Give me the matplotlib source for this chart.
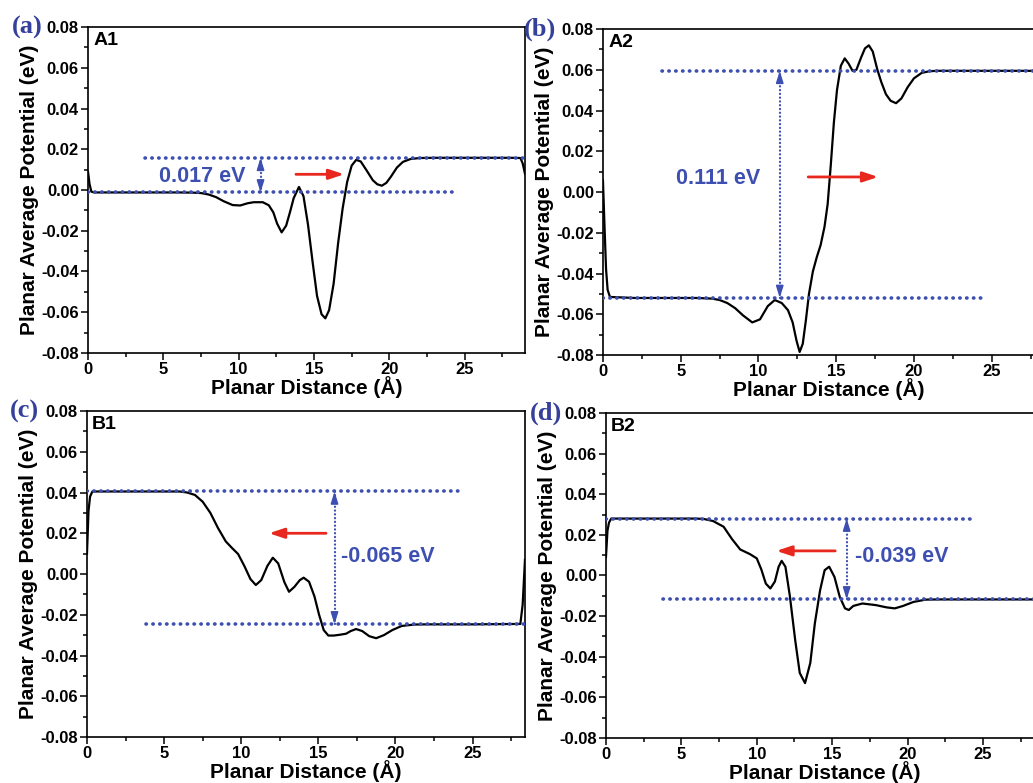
import matplotlib
matplotlib.use("Agg")
import matplotlib.pyplot as plt
from matplotlib.ticker import MultipleLocator

plt.rcParams['font.family'] = ['Liberation Sans', 'DejaVu Sans']
plt.rcParams['font.weight'] = 'bold'

# A1 curve
a1_x = [0, 0.1, 0.22, 0.4, 2, 4, 6, 7, 7.5, 8.0, 8.5, 9.0, 9.6, 10.1, 10.6, 11.0, 11.6,
        12.0, 12.3, 12.55, 12.85, 13.15, 13.4, 13.65, 14.0, 14.3, 14.6, 14.9, 15.2, 15.5,
        15.75, 16.0, 16.3, 16.6, 16.9, 17.2, 17.5, 17.8, 18.1, 18.5, 18.9, 19.2, 19.5, 19.8,
        20.1, 20.5, 20.9, 21.4, 22.0, 23, 25, 28, 28.7, 28.85, 29.0]
a1_y = [0.009, 0.003, -0.0008, -0.0012, -0.0012, -0.0012, -0.0012, -0.0013, -0.0015,
        -0.0022, -0.0035, -0.0055, -0.0074, -0.0076, -0.0065, -0.006, -0.006, -0.0075,
        -0.011, -0.0165, -0.0208, -0.0175, -0.011, -0.004, 0.0015, -0.003, -0.017, -0.035,
        -0.052, -0.061, -0.063, -0.059, -0.046, -0.026, -0.009, 0.004, 0.012, 0.0148, 0.014,
        0.0095, 0.0048, 0.0028, 0.0021, 0.0035, 0.0065, 0.011, 0.0138, 0.0152, 0.0157,
        0.0158, 0.0158, 0.0158, 0.0157, 0.013, 0.008]

# A2 curve
a2_x = [0, 0.1, 0.2, 0.3, 0.45, 2, 4, 6, 7, 7.5, 8.0, 8.5, 9.0, 9.6, 10.1, 10.6, 11.05,
        11.5, 11.9, 12.2, 12.45, 12.65, 12.85, 13.05, 13.25, 13.5, 13.75, 14.0, 14.25, 14.45,
        14.65, 14.85, 15.05, 15.3, 15.55, 15.8, 16.05, 16.3, 16.6, 16.85, 17.1, 17.35, 17.65,
        17.9, 18.2, 18.5, 18.85, 19.2, 19.6, 20.0, 20.5, 21.0, 21.5, 22.5, 25, 28, 28.6,
        28.8, 29]
a2_y = [0.0057, -0.017, -0.038, -0.048, -0.0515, -0.052, -0.052, -0.052, -0.0523, -0.053,
        -0.0545, -0.057, -0.0605, -0.064, -0.0625, -0.056, -0.053, -0.0545, -0.058, -0.064,
        -0.073, -0.0785, -0.0745, -0.063, -0.05, -0.039, -0.032, -0.026, -0.017, -0.006,
        0.013, 0.034, 0.050, 0.062, 0.0656, 0.063, 0.0595, 0.060, 0.066, 0.0705, 0.072,
        0.069, 0.060, 0.054, 0.048, 0.0448, 0.0436, 0.046, 0.0515, 0.0558, 0.0585, 0.0593,
        0.0595, 0.0595, 0.0595, 0.0595, 0.055, 0.04, 0.006]

# B1 curve
b1_x = [0, 0.1, 0.2, 0.35, 2, 4, 6, 6.5, 7.0, 7.5, 8.0, 8.5, 9.0, 9.4, 9.8, 10.2, 10.6,
        10.95, 11.3, 11.7, 12.05, 12.4, 12.8, 13.1, 13.45, 13.8, 14.05, 14.4, 14.75, 15.05,
        15.35, 15.65, 16.0, 16.4, 16.8, 17.1, 17.45, 17.85, 18.3, 18.75, 19.25, 19.8, 20.4,
        21.2, 22, 25, 28.1, 28.25, 28.4]
b1_y = [0.010, 0.031, 0.038, 0.0405, 0.0405, 0.0405, 0.0405, 0.040, 0.0388, 0.0355, 0.030,
        0.0225, 0.016, 0.0128, 0.0098, 0.004, -0.0025, -0.0054, -0.003, 0.004, 0.008, 0.0052,
        -0.004, -0.0087, -0.0063, -0.003, -0.0018, -0.0038, -0.011, -0.020, -0.0275,
        -0.0302, -0.0302, -0.0298, -0.0293, -0.028, -0.027, -0.028, -0.0305, -0.0315,
        -0.030, -0.0275, -0.0255, -0.0248, -0.0247, -0.0247, -0.0245, -0.015, 0.007]

# B2 curve
b2_x = [0, 0.1, 0.2, 0.35, 2, 4, 6, 6.5, 7.1, 7.8, 8.35, 8.9, 9.55, 10.0, 10.3, 10.6, 10.9,
        11.2, 11.45, 11.65, 11.9, 12.2, 12.55, 12.85, 13.2, 13.55, 13.85, 14.2, 14.5, 14.8,
        15.15, 15.5, 15.85, 16.1, 16.4, 17.0, 17.9, 18.6, 19.15, 19.7, 20.4, 21.2, 22, 25,
        28.6, 28.8, 29.0]
b2_y = [0.009, 0.022, 0.026, 0.028, 0.028, 0.028, 0.028, 0.0278, 0.0268, 0.024, 0.018,
        0.0128, 0.0105, 0.0084, 0.003, -0.004, -0.0064, -0.003, 0.0043, 0.0072, 0.0043,
        -0.0105, -0.032, -0.048, -0.053, -0.043, -0.0236, -0.0072, 0.0026, 0.0043, -0.0007,
        -0.0105, -0.0162, -0.017, -0.015, -0.0138, -0.0146, -0.0157, -0.0162, -0.015,
        -0.013, -0.0119, -0.0118, -0.0118, -0.0118, -0.005, 0.009]

panel_tags = ['(a)', '(b)', '(c)', '(d)']
panel_names = ['A1', 'A2', 'B1', 'B2']
levels_low = [-0.0012, -0.052, -0.0247, -0.0118]
levels_high = [0.0158, 0.0595, 0.0405, 0.028]
delta_labels = ['0.017 eV', '0.111 eV', '-0.065 eV', '-0.039 eV']

blue = '#3d4fb0'
tag_blue = '#34409a'
red = '#e8281e'

fig = plt.figure(figsize=(10.33, 7.83), dpi=100)

# [left, bottom, width, height], x max
layout = [
    ([0.0852, 0.5492, 0.4230, 0.4163], 29.0),
    ([0.5837, 0.5466, 0.4365, 0.4163], 29.0),
    ([0.0842, 0.0587, 0.4240, 0.4164], 28.4),
    ([0.5866, 0.0575, 0.4234, 0.4151], 29.0),
]
curves = [(a1_x, a1_y), (a2_x, a2_y), (b1_x, b1_y), (b2_x, b2_y)]

for i, ((pos, xmax), (cx, cy)) in enumerate(zip(layout, curves)):
    ax = fig.add_axes(pos)
    ax.plot(cx, cy, color='black', lw=1.6, zorder=3)
    ax.set_xlim(0, xmax)
    ax.set_ylim(-0.08, 0.08)
    ax.xaxis.set_major_locator(MultipleLocator(5))
    ax.xaxis.set_minor_locator(MultipleLocator(2.5))
    ax.yaxis.set_major_locator(MultipleLocator(0.02))
    ax.yaxis.set_minor_locator(MultipleLocator(0.01))
    ax.yaxis.set_major_formatter(plt.FormatStrFormatter('%.2f'))
    ax.tick_params(which='both', top=False, right=False, direction='out',
                   labelsize=12, width=1.1)
    ax.tick_params(which='major', length=5, pad=1.5)
    ax.tick_params(which='minor', length=3)
    for sp in ax.spines.values():
        sp.set_linewidth(1.2)
    ax.set_xlabel('Planar Distance (Å)', fontsize=15, fontweight='bold', labelpad=-1)
    ax.set_ylabel('Planar Average Potential (eV)', fontsize=15, fontweight='bold', labelpad=2)
    ax.text(0.012, 0.985, panel_names[i], transform=ax.transAxes, ha='left', va='top',
            fontsize=14, fontweight='bold')
    ax.text(-0.175, 1.0, panel_tags[i], transform=ax.transAxes, ha='left', va='center',
            fontsize=19, fontweight='bold', color=tag_blue, family='Liberation Serif')

    lo, hi = levels_low[i], levels_high[i]
    dot = dict(color=blue, lw=2.6, linestyle=(0, (0.1, 1.8)), dash_capstyle='round', zorder=4)
    head = dict(arrowstyle='-|>,head_length=0.7,head_width=0.22', color=blue, lw=1.2,
                shrinkA=0, shrinkB=0)
    redarr = dict(arrowstyle='-|>,head_length=0.9,head_width=0.3', color=red, lw=2,
                  shrinkA=0, shrinkB=0)
    if i < 2:
        ax.plot([3.8, xmax], [hi, hi], **dot)
        ax.plot([0, 24.3], [lo, lo], **dot)
    else:
        ax.plot([0, 24.3], [hi, hi], **dot)
        ax.plot([3.8, xmax], [lo, lo], **dot)

    xa = [11.45, 11.37, 16.05, 15.96][i]
    ax.plot([xa, xa], [lo, hi], color=blue, lw=1.6, linestyle=(0, (0.1, 1.6)),
            dash_capstyle='round', zorder=4)
    hl = min(0.005, (hi - lo) * 0.3)
    ax.annotate('', xy=(xa, hi), xytext=(xa, hi - hl), arrowprops=head, zorder=5)
    ax.annotate('', xy=(xa, lo), xytext=(xa, lo + hl), arrowprops=head, zorder=5)

    if i == 0:
        ax.text(7.6, 0.0066, delta_labels[i], color=blue, fontsize=15.5, fontweight='bold',
                ha='center', va='center')
        ax.annotate('', xy=(17.0, 0.0077), xytext=(13.8, 0.0077), arrowprops=redarr)
    elif i == 1:
        ax.text(7.4, 0.0066, delta_labels[i], color=blue, fontsize=15.5, fontweight='bold',
                ha='center', va='center')
        ax.annotate('', xy=(17.7, 0.0074), xytext=(13.2, 0.0074), arrowprops=redarr)
    elif i == 2:
        ax.text(16.5, 0.0085, delta_labels[i], color=blue, fontsize=15.5, fontweight='bold',
                ha='left', va='center')
        ax.annotate('', xy=(11.8, 0.020), xytext=(15.5, 0.020), arrowprops=redarr)
    else:
        ax.text(16.5, 0.0092, delta_labels[i], color=blue, fontsize=15.5, fontweight='bold',
                ha='left', va='center')
        ax.annotate('', xy=(11.3, 0.0121), xytext=(15.2, 0.0121), arrowprops=redarr)

fig.savefig('out.png', dpi=100)
